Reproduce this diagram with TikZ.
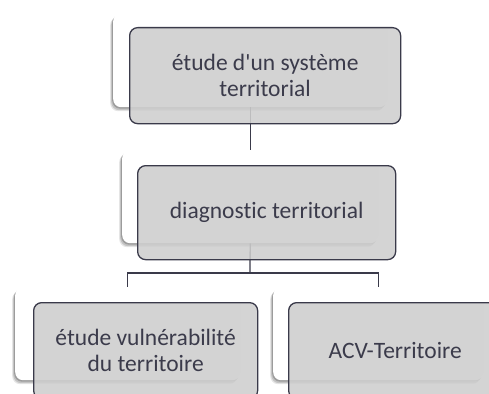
\documentclass[tikz,border=0pt]{standalone}
\usepackage{fontspec}
\setmainfont{Carlito}[RawFeature={-liga;-clig;-calt;-dlig}]
\usetikzlibrary{shadows,calc}
\definecolor{edge}{HTML}{3A3A4A}
\definecolor{txt}{HTML}{3B3B4B}
\definecolor{greyfill}{HTML}{CECECE}
\tikzset{
  backbox/.style={draw=none, fill=white, rounded corners=8pt, anchor=north west,
    drop shadow={shadow xshift=-3pt, shadow yshift=-4pt, opacity=0.10, fill=black},
    drop shadow={shadow xshift=-2pt, shadow yshift=-3pt, opacity=0.15, fill=black},
    drop shadow={shadow xshift=-1pt, shadow yshift=-1.5pt, opacity=0.20, fill=black}},
  frontbox/.style={draw=edge, line width=1.3pt, fill=greyfill, fill opacity=0.88, text opacity=1,
    rounded corners=8pt, anchor=north west, text=txt, align=center,
    font=\fontsize{23.5}{26}\selectfont, inner sep=0pt},
  link/.style={draw=edge, line width=1.3pt}
}
\begin{document}
\begin{tikzpicture}[x=1pt,y=-1pt]
\useasboundingbox (0,0) rectangle (489,393);
\clip (0,0) rectangle (489,393);
% back boxes
\node[backbox, minimum width=274pt, minimum height=94pt] (w1) at (113,13) {};
\node[backbox, minimum width=256pt, minimum height=93pt] (w2) at (122,150) {};
\node[backbox, minimum width=225pt, minimum height=93pt] (w3) at (15,287) {};
\node[backbox, minimum width=210pt, minimum height=93pt] (w4) at (273,287) {};
% connectors
\coordinate (j) at (250,273);
\draw[link] (w1.south) -- (w2.north);
\draw[link] (w2.south) -- (j);
\draw[link] (j) -| (w3.north);
\draw[link] (j) -| (w4.north);
% front boxes
\node[frontbox, minimum width=271pt, minimum height=96pt] (g1) at (129,27) {étude d\textquotesingle un système\\territorial};
\node[frontbox, minimum width=258pt, minimum height=94pt] (g2) at (137,165) {diagnostic territorial};
\node[frontbox, minimum width=224pt, minimum height=96pt] (g3) at (33,302) {étude vulnérabilité\\du territoire};
\node[frontbox, minimum width=213pt, minimum height=96pt] (g4) at (288,302) {ACV-Territoire};
\end{tikzpicture}
\end{document}
